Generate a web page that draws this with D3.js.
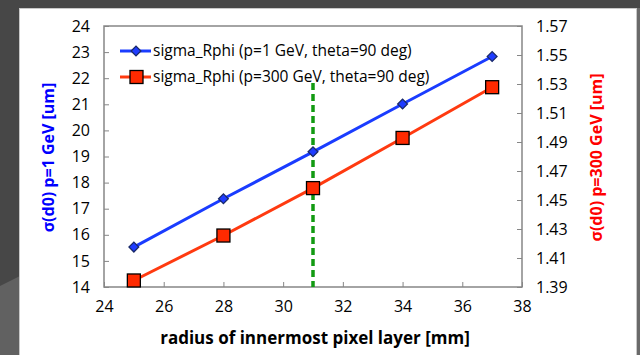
<!DOCTYPE html>
<html>
<head>
<meta charset="utf-8">
<script src="https://cdn.jsdelivr.net/npm/d3@7"></script>
<style>
  html, body { margin: 0; padding: 0; background: #474747; }
  svg { display: block; }
  text { font-family: "Open Sans", Lato, "DejaVu Sans", sans-serif; }
</style>
</head>
<body>
<svg id="chart" width="640" height="355"></svg>
<script>
// Innermost pixel layer radius [mm]
const radii = [25, 28, 31, 34, 37];
// d0 resolution at p = 1 GeV (left axis, um)
const sigmaLowP = [15.53, 17.38, 19.18, 21.01, 22.83];
// d0 resolution at p = 300 GeV (right axis, um)
const sigmaHighP = [1.3945, 1.4255, 1.4582, 1.4928, 1.5278];
// chosen layer radius
const markedRadius = 31;

const xTicks = [24, 26, 28, 30, 32, 34, 36, 38];
const yLeftTicks = [14, 15, 16, 17, 18, 19, 20, 21, 22, 23, 24];
const yRightTicks = [1.39, 1.41, 1.43, 1.45, 1.47, 1.49, 1.51, 1.53, 1.55, 1.57];

const seriesNames = ["sigma_Rphi (p=1 GeV, theta=90 deg)", "sigma_Rphi (p=300 GeV, theta=90 deg)"];

const svg = d3.select("#chart");
const W = 640, H = 355;

// backdrop
svg.append("rect").attr("width", W).attr("height", H).attr("fill", "#474747");
svg.append("path").attr("d", "M0,286 L20,276 L20,355 L0,355 Z").attr("fill", "#616161");
svg.append("rect").attr("x", 630).attr("y", 8).attr("width", 10).attr("height", H).attr("fill", "#6a6a6a");
svg.append("rect").attr("x", 19.5).attr("y", 8.5).attr("width", 617).attr("height", 360)
  .attr("fill", "#ffffff").attr("stroke", "#c8c8c8").attr("stroke-width", 1);

const plot = { left: 104, right: 522, top: 26, bottom: 287 };

const x = d3.scaleLinear().domain([24, 38]).range([plot.left, plot.right]);
const yL = d3.scaleLinear().domain([14, 24]).range([plot.bottom, plot.top]);
const yR = d3.scaleLinear().domain([1.39, 1.57]).range([plot.bottom, plot.top]);

// plot frame
svg.append("rect")
  .attr("x", plot.left).attr("y", plot.top)
  .attr("width", plot.right - plot.left).attr("height", plot.bottom - plot.top)
  .attr("fill", "none").attr("stroke", "#868686").attr("stroke-width", 1.5);

function styleAxis(g) {
  g.select(".domain").remove();
  g.selectAll(".tick line").attr("stroke", "#868686").attr("stroke-width", 1);
  g.selectAll(".tick text").attr("fill", "#000").attr("font-size", 16)
    .style("font-family", "'Open Sans', Lato, sans-serif");
}

svg.append("g").attr("transform", `translate(0,${plot.bottom})`)
  .call(d3.axisBottom(x).tickValues(xTicks).tickSize(-5).tickPadding(14).tickFormat(d3.format("d")))
  .call(styleAxis);

svg.append("g").attr("transform", `translate(${plot.left},0)`)
  .call(d3.axisLeft(yL).tickValues(yLeftTicks).tickSize(-5).tickPadding(14).tickFormat(d3.format("d")))
  .call(styleAxis);

svg.append("g").attr("transform", `translate(${plot.right},0)`)
  .call(d3.axisRight(yR).tickValues(yRightTicks).tickSize(-5).tickPadding(14).tickFormat(d3.format(".2f")))
  .call(styleAxis);

// axis titles
svg.append("text")
  .attr("transform", `translate(54,${(plot.top + plot.bottom) / 2 + 1}) rotate(-90)`)
  .attr("text-anchor", "middle").attr("font-size", 16).attr("font-weight", "bold")
  .attr("fill", "#0000ff").text("σ(d0) p=1 GeV [um]");

svg.append("text")
  .attr("transform", `translate(602,${(plot.top + plot.bottom) / 2 + 1}) rotate(-90)`)
  .attr("text-anchor", "middle").attr("font-size", 16).attr("font-weight", "bold")
  .attr("fill", "#ff0000").text("σ(d0) p=300 GeV [um]");

svg.append("text")
  .attr("x", (plot.left + plot.right) / 2 + 2).attr("y", 344)
  .attr("text-anchor", "middle").attr("font-size", 17).attr("font-weight", "bold")
  .attr("fill", "#000").text("radius of innermost pixel layer [mm]");

// marked radius
svg.append("line")
  .attr("x1", x(markedRadius)).attr("x2", x(markedRadius))
  .attr("y1", 83).attr("y2", plot.bottom)
  .attr("stroke", "#129a12").attr("stroke-width", 3.5)
  .attr("stroke-dasharray", "7,4");

const blue = "#1a3cff", red = "#ff3a10";

const lineL = d3.line().x((d, i) => x(radii[i])).y(d => yL(d));
const lineR = d3.line().x((d, i) => x(radii[i])).y(d => yR(d));

svg.append("path").attr("d", lineL(sigmaLowP))
  .attr("fill", "none").attr("stroke", blue).attr("stroke-width", 3);
svg.append("path").attr("d", lineR(sigmaHighP))
  .attr("fill", "none").attr("stroke", red).attr("stroke-width", 3);

// diamond marker: a square rotated by 45 degrees
const diamond = d3.symbol().type(d3.symbolSquare).size(48);

svg.append("g").selectAll("path").data(sigmaLowP).join("path")
  .attr("transform", (d, i) => `translate(${x(radii[i])},${yL(d)}) rotate(45)`)
  .attr("d", diamond).attr("fill", "#1f3cff").attr("stroke", "#1a2a6a").attr("stroke-width", 1.3);

svg.append("g").selectAll("rect").data(sigmaHighP).join("rect")
  .attr("x", (d, i) => x(radii[i]) - 6.5).attr("y", d => yR(d) - 6.5)
  .attr("width", 13).attr("height", 13)
  .attr("fill", "#ff2a00").attr("stroke", "#000").attr("stroke-width", 1.3);

// legend
const legend = svg.append("g");
const legY = [51, 77];
legend.append("line").attr("x1", 120).attr("x2", 151).attr("y1", legY[0]).attr("y2", legY[0])
  .attr("stroke", blue).attr("stroke-width", 3);
legend.append("path").attr("transform", `translate(136,${legY[0]}) rotate(45)`)
  .attr("d", diamond).attr("fill", "#1f3cff").attr("stroke", "#1a2a6a").attr("stroke-width", 1.3);
legend.append("line").attr("x1", 120).attr("x2", 151).attr("y1", legY[1]).attr("y2", legY[1])
  .attr("stroke", red).attr("stroke-width", 3);
legend.append("rect").attr("x", 130).attr("y", legY[1] - 6.5).attr("width", 13).attr("height", 13)
  .attr("fill", "#ff2a00").attr("stroke", "#000").attr("stroke-width", 1.3);
seriesNames.forEach((name, i) => {
  legend.append("text").attr("x", 153).attr("y", legY[i] + 5)
    .attr("font-size", 15.5).attr("fill", "#000").text(name);
});
</script>
</body>
</html>
